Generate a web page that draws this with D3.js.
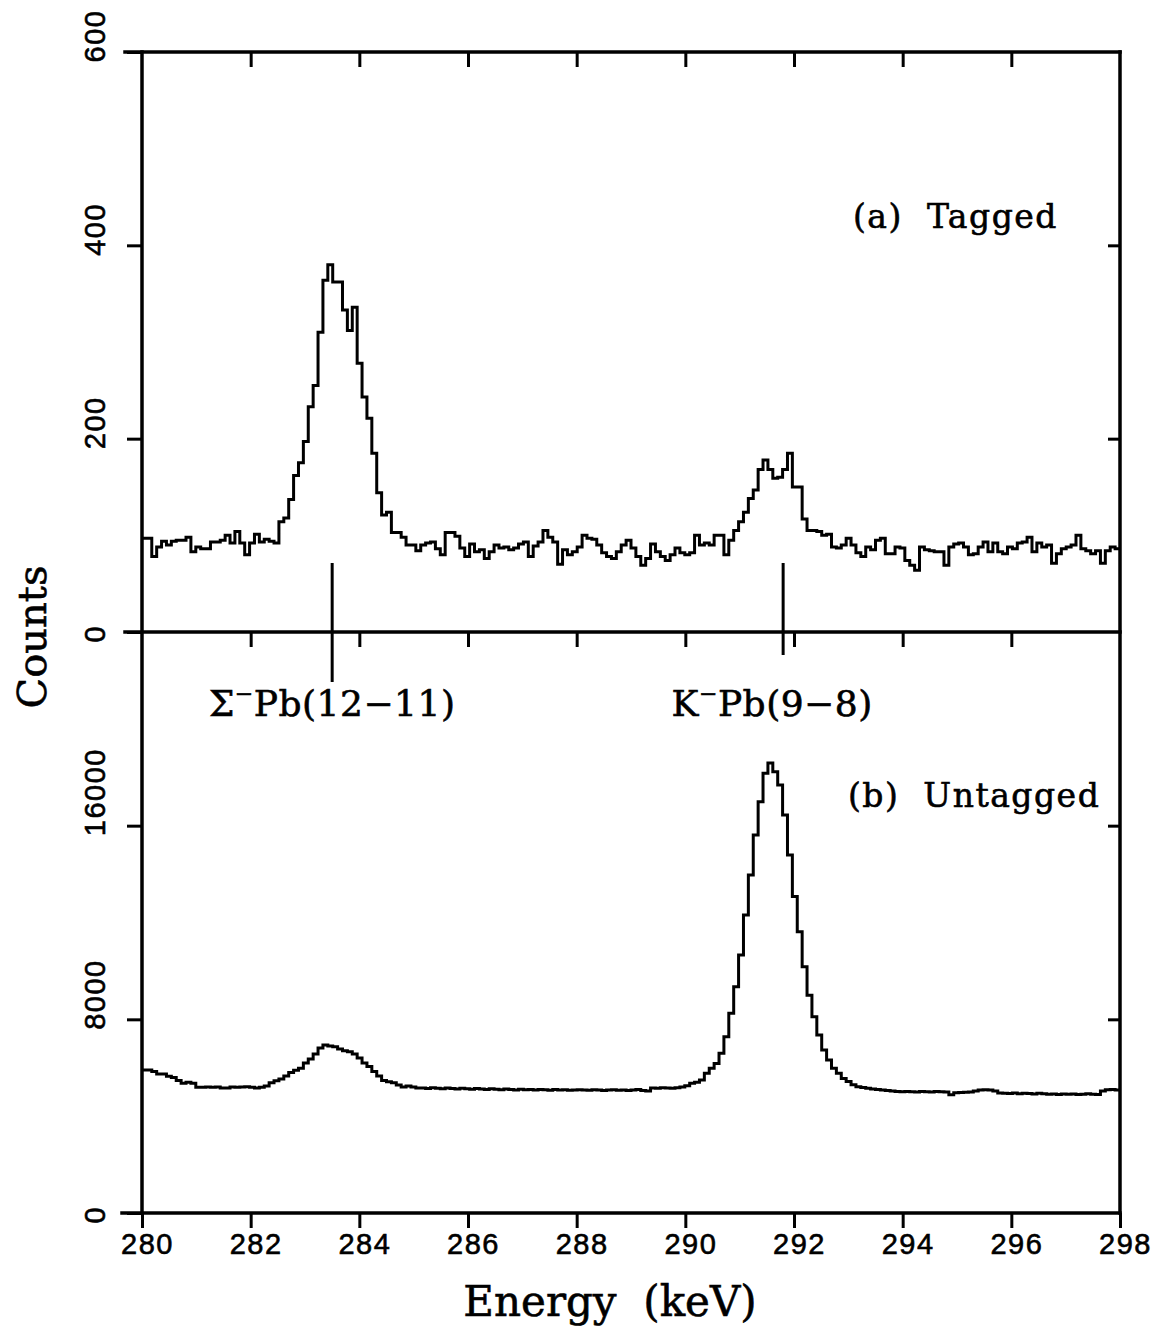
<!DOCTYPE html>
<html>
<head>
<meta charset="utf-8">
<script src="https://cdnjs.cloudflare.com/ajax/libs/d3/7.8.5/d3.min.js"></script>
<style>
  body { margin: 0; background: #fff; }
  svg { display: block; }
</style>
</head>
<body>
<div id="chart"></div>
<script>
// Energy binning of both spectra (keV)
var binStart = 280;
var binWidth = 0.09;

// (a) Tagged spectrum, counts per bin
var taggedCounts = [
  97, 97, 78, 88, 94, 90, 94, 95, 95, 98,
  83, 88, 86, 86, 93, 93, 95, 100, 92, 104,
  92, 80, 92, 101, 93, 96, 94, 92, 114, 118,
  137, 162, 175, 197, 233, 255, 310, 364, 380, 362,
  362, 333, 312, 336, 278, 243, 221, 185, 144, 121,
  124, 103, 103, 98, 90, 90, 84, 90, 92, 93,
  86, 80, 103, 103, 99, 87, 78, 91, 83, 85,
  76, 83, 90, 87, 88, 85, 87, 91, 93, 78,
  89, 93, 105, 98, 93, 70, 85, 80, 83, 88,
  100, 97, 96, 90, 82, 78, 76, 83, 90, 95,
  87, 78, 69, 76, 91, 83, 78, 74, 80, 87,
  82, 80, 82, 100, 90, 92, 90, 100, 100, 80,
  95, 105, 114, 124, 138, 147, 168, 178, 168, 159,
  160, 168, 185, 150, 150, 117, 105, 105, 104, 100,
  101, 88, 87, 90, 97, 90, 82, 78, 88, 85,
  95, 97, 81, 81, 88, 87, 74, 69, 64, 88,
  85, 84, 83, 83, 69, 88, 91, 92, 88, 80,
  81, 88, 93, 83, 92, 83, 81, 88, 86, 92,
  93, 98, 83, 92, 88, 90, 71, 81, 86, 88,
  90, 100, 86, 84, 81, 84, 71, 84, 88, 86
];

// (b) Untagged spectrum, counts per bin
var untaggedCounts = [
  5910, 5910, 5850, 5740, 5740, 5650, 5600, 5470, 5360, 5400,
  5360, 5190, 5190, 5210, 5190, 5200, 5160, 5160, 5200, 5190,
  5200, 5220, 5190, 5160, 5190, 5250, 5380, 5460, 5540, 5660,
  5800, 5900, 5980, 6200, 6360, 6570, 6820, 6940, 6900, 6870,
  6770, 6700, 6660, 6570, 6400, 6200, 6050, 5840, 5660, 5470,
  5420, 5380, 5290, 5200, 5250, 5200, 5160, 5160, 5140, 5170,
  5150, 5130, 5160, 5140, 5120, 5150, 5130, 5110, 5140, 5120,
  5100, 5130, 5110, 5090, 5120, 5100, 5080, 5110, 5090, 5100,
  5080, 5100, 5090, 5070, 5100, 5080, 5090, 5070, 5080, 5090,
  5080, 5070, 5090, 5080, 5060, 5080, 5090, 5070, 5080, 5060,
  5080, 5100, 5060, 5040, 5160, 5150, 5170, 5160, 5150, 5170,
  5200, 5260, 5360, 5400, 5490, 5770, 5980, 6180, 6600, 7280,
  8250, 9350, 10660, 12310, 13960, 15610, 16990, 18170, 18590, 18230,
  17680, 16440, 14790, 13070, 11620, 10170, 9000, 8110, 7350, 6730,
  6320, 5980, 5770, 5560, 5430, 5300, 5220, 5180, 5150, 5120,
  5100, 5080, 5060, 5040, 5020, 5010, 5020, 5010, 5000, 5020,
  5010, 5000, 5020, 5010, 5000, 4880, 4970, 4980, 4990, 5000,
  5040, 5080, 5090, 5080, 5040, 4960, 4950, 4940, 4960, 4930,
  4950, 4940, 4920, 4950, 4930, 4910, 4920, 4900, 4920, 4910,
  4920, 4900, 4910, 4930, 4910, 4900, 5040, 5090, 5100, 5080
];

var energyDomain = [280, 298];
var energyTicks = [280, 282, 284, 286, 288, 290, 292, 294, 296, 298];
var innerEnergyTicks = [282, 284, 286, 288, 290, 292, 294, 296];
var taggedDomain = [0, 600];
var taggedTicks = [0, 200, 400, 600];
var untaggedDomain = [0, 24000];
var untaggedTicks = [0, 8000, 16000];

var markerEnergies = [283.5, 291.8];
var markerLabels = [["\u03a3", "Pb(12\u221211)"], ["K", "Pb(9\u22128)"]];

(function() {
  var width = 1160, height = 1327;
  var left = 142, right = 1120, plotTop = 52, mid = 632, plotBottom = 1213;
  var serif = "'DejaVu Serif', 'Liberation Serif', serif";
  var sans = "'Liberation Sans', Arial, sans-serif";

  var svg = d3.select("#chart").append("svg")
    .attr("width", width)
    .attr("height", height);

  var x = d3.scaleLinear().domain(energyDomain).range([left, right]);
  var yTag = d3.scaleLinear().domain(taggedDomain).range([mid, plotTop]);
  var yUn = d3.scaleLinear().domain(untaggedDomain).range([plotBottom, mid]);

  // Step outline of a histogram, one point per bin edge
  function histPath(counts, y) {
    var pts = counts.map(function(c, i) {
      return [x(binStart + i * binWidth), y(c)];
    });
    pts.push([x(binStart + counts.length * binWidth), y(counts[counts.length - 1])]);
    return d3.line().curve(d3.curveStepAfter)(pts);
  }

  // Frame lines; horizontal ones run a little past the left axis
  var frame = svg.append("g")
    .attr("stroke", "#000")
    .attr("stroke-width", 3.5)
    .attr("stroke-linecap", "square");
  [[left - 17, plotTop, right, plotTop],
   [left - 17, mid, right, mid],
   [left - 20, plotBottom, right, plotBottom],
   [left, plotTop, left, plotBottom],
   [right, plotTop, right, plotBottom]].forEach(function(l) {
    frame.append("line")
      .attr("x1", l[0]).attr("y1", l[1])
      .attr("x2", l[2]).attr("y2", l[3]);
  });

  function styleAxis(g) {
    g.select(".domain").remove();
    g.selectAll(".tick line").attr("stroke", "#000").attr("stroke-width", 3);
    g.attr("font-family", sans).attr("font-size", 29);
    g.selectAll("text")
      .attr("fill", "#000")
      .attr("stroke", "#000")
      .attr("stroke-width", 0.6)
      .attr("letter-spacing", 1.5);
  }

  // Energy ticks: top edge and middle line (pointing down, no labels)
  [plotTop, mid].forEach(function(yPos) {
    svg.append("g")
      .attr("transform", "translate(0," + yPos + ")")
      .call(d3.axisBottom(x).tickValues(innerEnergyTicks).tickSize(15).tickFormat(""))
      .call(styleAxis);
  });

  // Energy axis at bottom, with labels
  svg.append("g")
    .attr("transform", "translate(0," + plotBottom + ")")
    .call(d3.axisBottom(x).tickValues(energyTicks).tickSize(15).tickPadding(5).tickFormat(d3.format("d")))
    .call(styleAxis)
    .selectAll("text")
    .attr("dx", 5);

  // Left count axes with rotated labels, inward ticks on the right
  function countAxis(scale, ticks) {
    var dom = scale.domain();
    svg.append("g")
      .attr("transform", "translate(" + left + ",0)")
      .call(d3.axisLeft(scale).tickValues(ticks).tickSize(15).tickFormat(d3.format("d")))
      .call(styleAxis)
      .selectAll("text")
      .attr("x", 0)
      .attr("dy", 0)
      .attr("text-anchor", "start")
      .attr("transform", "translate(-37,10) rotate(-90)");

    svg.append("g")
      .attr("transform", "translate(" + right + ",0)")
      .call(d3.axisRight(scale).tickValues(ticks.filter(function(t) {
        return t > dom[0] && t < dom[1];
      })).tickSize(-12).tickFormat(""))
      .call(styleAxis);
  }
  countAxis(yTag, taggedTicks);
  countAxis(yUn, untaggedTicks);

  // Spectra
  svg.append("path")
    .attr("d", histPath(taggedCounts, yTag))
    .attr("fill", "none")
    .attr("stroke", "#000")
    .attr("stroke-width", 3);

  svg.append("path")
    .attr("d", histPath(untaggedCounts, yUn))
    .attr("fill", "none")
    .attr("stroke", "#000")
    .attr("stroke-width", 3);

  function label(sel) {
    sel.attr("font-family", serif)
      .attr("fill", "#000")
      .attr("stroke", "#000")
      .attr("stroke-width", 0.6);
  }

  // Line markers and their labels
  var markerBottoms = [682, 655];
  var labelShift = [0, -11];
  markerEnergies.forEach(function(e, i) {
    svg.append("line")
      .attr("x1", x(e)).attr("x2", x(e))
      .attr("y1", 563).attr("y2", markerBottoms[i])
      .attr("stroke", "#000")
      .attr("stroke-width", 3);

    var t = svg.append("text")
      .attr("x", x(e) + labelShift[i])
      .attr("y", 716)
      .attr("text-anchor", "middle")
      .attr("font-size", 36)
      .attr("letter-spacing", 0.5)
      .call(label);
    t.append("tspan").text(markerLabels[i][0]);
    t.append("tspan").attr("dy", -15).attr("font-size", 22).text("\u2212");
    t.append("tspan").attr("dy", 15).text(markerLabels[i][1]);
  });

  // Panel tags
  svg.append("text")
    .attr("x", 853).attr("y", 228)
    .attr("font-size", 33)
    .attr("letter-spacing", 1.5)
    .call(label)
    .text("(a)\u00a0\u00a0Tagged");

  svg.append("text")
    .attr("x", 848).attr("y", 807)
    .attr("font-size", 33)
    .attr("letter-spacing", 1.5)
    .call(label)
    .text("(b)\u00a0\u00a0Untagged");

  // Axis titles
  svg.append("text")
    .attr("transform", "translate(46,637) rotate(-90)")
    .attr("text-anchor", "middle")
    .attr("font-size", 40)
    .call(label)
    .text("Counts");

  svg.append("text")
    .attr("x", 610).attr("y", 1316)
    .attr("text-anchor", "middle")
    .attr("font-size", 42)
    .call(label)
    .text("Energy\u00a0\u00a0(keV)");
})();
</script>
</body>
</html>
